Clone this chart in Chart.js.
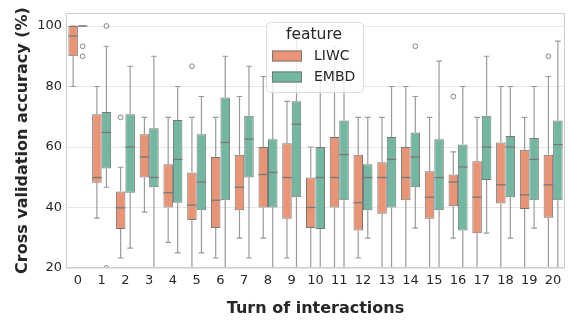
<!DOCTYPE html>
<html>
<head>
<meta charset="utf-8">
<script src="https://cdn.jsdelivr.net/npm/chart.js@4.4.0/dist/chart.umd.min.js"></script>
<style>
  html, body { margin: 0; padding: 0; background: #fff; }
  #wrap { width: 570px; height: 322px; }
</style>
</head>
<body>
<div id="wrap"><canvas id="chart" width="570" height="322"></canvas></div>
<script>
// Categorías (turno de interacción)
const turns = ['0','1','2','3','4','5','6','7','8','9','10','11','12','13','14','15','16','17','18','19','20'];
const yTicks = [20, 40, 60, 80, 100];

// LIWC: bigote inferior, Q1, mediana, Q3, bigote superior, atípicos
const liwcLo  = [80, 36.5, 23.3, 38.5, 28.5, 16, 23.3, 29.9, 29.9, 23.3, 16, 10, 23.3, 16, 16, 16, 29.9, 16, 16, 16, 16];
const liwcQ1  = [90, 48.2, 32.9, 49.9, 40, 35.9, 33.2, 39.1, 40, 36.3, 33.2, 40, 32.4, 37.9, 42.4, 36.3, 40.4, 31.5, 41.3, 39.5, 36.6];
const liwcMed = [96.7, 49.9, 39.9, 56.7, 44.9, 40.8, 42.4, 46.7, 50.9, 49.9, 40, 49.9, 41.6, 49.9, 49.9, 43.4, 48.4, 43.4, 47.5, 44.2, 47.5];
const liwcQ3  = [100, 70.8, 45.3, 64.2, 54.3, 51.6, 56.7, 57.4, 60, 61.2, 49.9, 63.3, 57.4, 55, 60, 52, 50.9, 55.3, 61.5, 59.1, 57.4];
const liwcHi  = [100, 80, 53.3, 69.8, 69.8, 69.8, 69.8, 76.7, 83.3, 75.1, 60, 93.3, 69.8, 69.8, 80, 69.8, 58.4, 69.8, 80, 69.8, 83.3];
const liwcOut = [[], [], [69.8], [], [], [86.7], [], [], [], [], [], [], [], [], [], [], [76.7], [], [], [], [90]];

// EMBD
const embdLo  = [100, 46.7, 26.6, 16, 25, 25, 16, 23.3, 16, 16, 16, 16, 29.9, 16, 33.2, 16, 16, 31.5, 29.9, 33.2, 16];
const embdQ1  = [100, 52.9, 44.9, 46.7, 41.6, 39.1, 42.4, 49.9, 40, 43.4, 32.9, 42.4, 39.1, 40, 46.7, 39.1, 32.4, 49.1, 43.4, 42.4, 42.4];
const embdMed = [100, 64.8, 60, 49.9, 55.9, 48.4, 61.5, 62.6, 51.6, 67.5, 49.9, 57.5, 49.9, 55.9, 56.7, 49.9, 53.4, 60, 60, 55.9, 60.8];
const embdQ3  = [100, 71.6, 70.8, 66.2, 68.9, 64.2, 76.4, 70.3, 62.6, 75.1, 60, 68.8, 54.3, 63.3, 64.8, 62.6, 60.8, 70.3, 63.6, 63, 68.8];
const embdHi  = [100, 93.3, 86.7, 90, 80, 76.7, 90, 86.7, 83.3, 97, 83.3, 90, 69.8, 80, 76.7, 88.4, 80, 90, 80, 80, 95];
const embdOut = [[93.3, 90], [100, 20], [], [], [], [], [], [], [], [], [], [], [], [], [93.3], [], [], [], [], [], []];

const colorLiwc = '#e99575';
const colorEmbd = '#71b7a1';
const edgeGray = '#787878';
const whiskerGray = '#9a9a9a';
const textColor = '#262626';
const fontFam = "'DejaVu Sans', sans-serif";

const stats = [
    { lo: liwcLo, med: liwcMed, hi: liwcHi, q1: liwcQ1, q3: liwcQ3, out: liwcOut },
    { lo: embdLo, med: embdMed, hi: embdHi, q1: embdQ1, q3: embdQ3, out: embdOut }
];

// Bigotes y puntos atípicos (detrás de las cajas)
const whiskerPlugin = {
    id: 'whiskers',
    beforeDatasetsDraw(chart) {
        const ctx = chart.ctx;
        const y = chart.scales.y;
        const area = chart.chartArea;
        ctx.save();
        ctx.beginPath();
        ctx.rect(area.left, area.top, area.right - area.left, area.bottom - area.top);
        ctx.clip();
        ctx.strokeStyle = whiskerGray;
        ctx.lineWidth = 1.2;
        stats.forEach((s, di) => {
            const meta = chart.getDatasetMeta(di);
            meta.data.forEach((bar, i) => {
                const x = bar.x;
                const cap = bar.width * 0.3;
                ctx.beginPath();
                ctx.moveTo(x, y.getPixelForValue(s.q3[i]));
                ctx.lineTo(x, y.getPixelForValue(s.hi[i]));
                ctx.moveTo(x - cap, y.getPixelForValue(s.hi[i]));
                ctx.lineTo(x + cap, y.getPixelForValue(s.hi[i]));
                ctx.moveTo(x, y.getPixelForValue(s.q1[i]));
                ctx.lineTo(x, y.getPixelForValue(s.lo[i]));
                ctx.moveTo(x - cap, y.getPixelForValue(s.lo[i]));
                ctx.lineTo(x + cap, y.getPixelForValue(s.lo[i]));
                ctx.stroke();
            });
        });
        ctx.restore();
    },
    afterDatasetsDraw(chart) {
        const ctx = chart.ctx;
        const y = chart.scales.y;
        const area = chart.chartArea;
        ctx.save();
        ctx.beginPath();
        ctx.rect(area.left, area.top, area.right - area.left, area.bottom - area.top);
        ctx.clip();
        stats.forEach((s, di) => {
            const meta = chart.getDatasetMeta(di);
            meta.data.forEach((bar, i) => {
                const half = bar.width / 2;
                // mediana
                ctx.strokeStyle = edgeGray;
                ctx.lineWidth = 1.3;
                const ym = y.getPixelForValue(s.med[i]);
                ctx.beginPath();
                ctx.moveTo(bar.x - half, ym);
                ctx.lineTo(bar.x + half, ym);
                ctx.stroke();
                // atípicos
                ctx.lineWidth = 0.9;
                s.out[i].forEach(v => {
                    ctx.beginPath();
                    ctx.arc(bar.x, y.getPixelForValue(v), 2.4, 0, Math.PI * 2);
                    ctx.stroke();
                });
            });
        });
        ctx.restore();
    }
};

// Marco completo del área y leyenda interna
const frameLegendPlugin = {
    id: 'frameLegend',
    afterDraw(chart) {
        const ctx = chart.ctx;
        const a = chart.chartArea;
        ctx.save();
        ctx.strokeStyle = '#cccccc';
        ctx.lineWidth = 1;
        ctx.strokeRect(a.left + 0.5, a.top + 0.5, a.right - a.left - 1, a.bottom - a.top - 1);

        // leyenda
        const lx = 266, ly = 22, lw = 97, lh = 70;
        ctx.beginPath();
        ctx.roundRect(lx + 0.5, ly + 0.5, lw, lh, 4);
        ctx.fillStyle = 'rgba(255,255,255,0.8)';
        ctx.fill();
        ctx.strokeStyle = '#dddddd';
        ctx.stroke();

        ctx.fillStyle = textColor;
        ctx.textAlign = 'center';
        ctx.textBaseline = 'middle';
        ctx.font = '15.5px ' + fontFam;
        ctx.fillText('feature', lx + 48, ly + 13);

        const items = [['LIWC', colorLiwc], ['EMBD', colorEmbd]];
        items.forEach((it, k) => {
            const cy = ly + 34 + k * 21;
            ctx.fillStyle = it[1];
            ctx.fillRect(lx + 6, cy - 5.5, 30, 11);
            ctx.strokeStyle = edgeGray;
            ctx.lineWidth = 1;
            ctx.strokeRect(lx + 6.5, cy - 5, 29, 10);
            ctx.fillStyle = textColor;
            ctx.textAlign = 'left';
            ctx.font = '14px ' + fontFam;
            ctx.fillText(it[0], lx + 48, cy);
        });
        ctx.restore();
    }
};

const ctx = document.getElementById('chart');
new Chart(ctx, {
    type: 'bar',
    data: {
        labels: turns,
        datasets: [
            {
                label: 'LIWC',
                data: turns.map((t, i) => [liwcQ1[i], liwcQ3[i]]),
                backgroundColor: colorLiwc,
                borderColor: edgeGray,
                borderWidth: 1,
                borderSkipped: false
            },
            {
                label: 'EMBD',
                data: turns.map((t, i) => [embdQ1[i], embdQ3[i]]),
                backgroundColor: colorEmbd,
                borderColor: edgeGray,
                borderWidth: 1,
                borderSkipped: false
            }
        ]
    },
    options: {
        responsive: false,
        animation: false,
        layout: { padding: { left: 9, top: 13, right: 5, bottom: 0 } },
        datasets: { bar: { categoryPercentage: 0.8, barPercentage: 1.0 } },
        plugins: {
            legend: { display: false },
            tooltip: { enabled: false }
        },
        scales: {
            x: {
                grid: { display: false, drawTicks: false },
                border: { display: false },
                ticks: { color: textColor, font: { family: fontFam, size: 13 }, padding: 5, maxRotation: 0, autoSkip: false },
                title: { display: true, text: 'Turn of interactions', color: textColor, font: { family: fontFam, size: 16, weight: 'bold' }, padding: { top: 4, bottom: 4 } },
                afterFit(scale) { scale.height = 54; }
            },
            y: {
                min: 20,
                max: 104.3,
                grid: { color: '#e6e6e6', drawTicks: false },
                border: { display: false },
                afterBuildTicks(scale) { scale.ticks = yTicks.map(v => ({ value: v })); },
                ticks: { color: textColor, font: { family: fontFam, size: 13 }, padding: 4 },
                title: { display: true, text: 'Cross validation accuracy (%)', color: textColor, font: { family: fontFam, size: 16, weight: 'bold' }, padding: { top: 4, bottom: 4 } },
                afterFit(scale) { scale.width = 57; }
            }
        }
    },
    plugins: [whiskerPlugin, frameLegendPlugin]
});
</script>
</body>
</html>
